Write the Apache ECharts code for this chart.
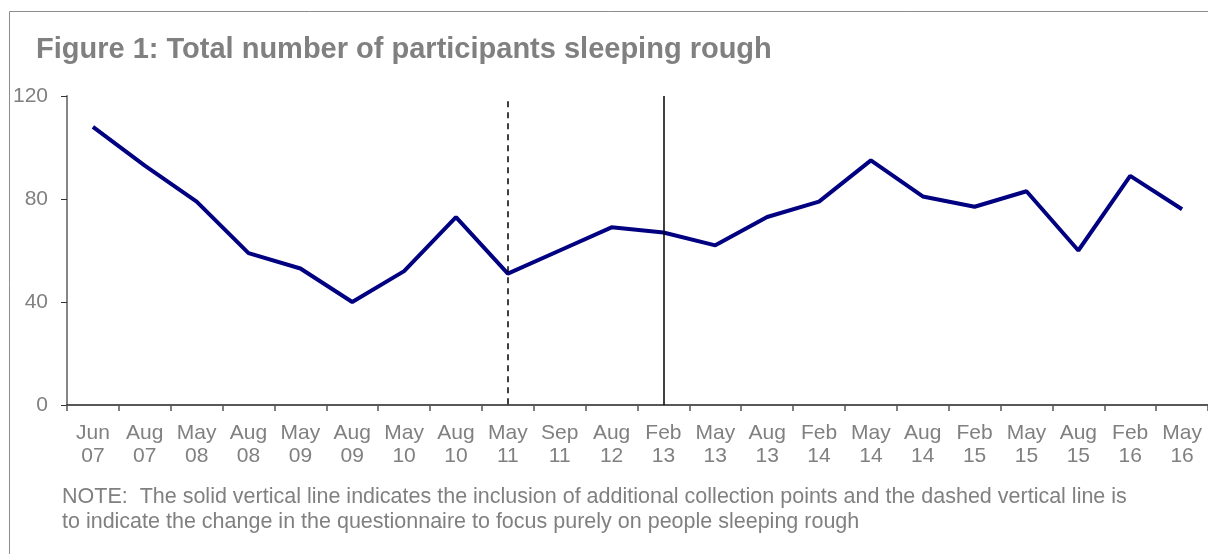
<html>
	<head>
		<meta charset="UTF-8">
		<title>Figure 1</title>
		<script src="https://cdn.jsdelivr.net/npm/echarts@6/dist/echarts.min.js"></script>
		<style>html,body,#container{width:100%;height:100%;margin:0;padding:0;background:#fff;}</style>
	</head>
	<body>
		<div id="container"></div>
		<script>
		var categories = ['Jun 07', 'Aug 07', 'May 08', 'Aug 08', 'May 09', 'Aug 09', 'May 10', 'Aug 10', 'May 11', 'Sep 11', 'Aug 12',
			'Feb 13', 'May 13', 'Aug 13', 'Feb 14', 'May 14', 'Aug 14', 'Feb 15', 'May 15', 'Aug 15', 'Feb 16', 'May 16'];
		var participants = [108, 93, 79, 59, 53, 40, 52, 73, 51, 60, 69, 67, 62, 73, 79, 95, 81, 77, 83, 60, 89, 76];
		var yTicks = [0, 40, 80, 120];
		// dashed = questionnaire change, solid = extra collection points
		var dashedAt = 'May 11';
		var solidAt = 'Feb 13';

		var gray = '#808080';
		var chart = echarts.init(document.getElementById('container'));
		chart.setOption({
			animation: false,
			textStyle: { fontFamily: 'Liberation Sans, Arial, sans-serif' },
			title: {
				text: 'Figure 1: Total number of participants sleeping rough',
				left: 36,
				top: 35,
				padding: 0,
				textStyle: { color: gray, fontSize: 29, fontWeight: 'bold' }
			},
			graphic: [{
				type: 'rect',
				shape: { x: 9.5, y: 11.5, width: 1400, height: 800 },
				style: { fill: 'none', stroke: '#8c8c8c', lineWidth: 1 },
				silent: true
			}, {
				type: 'text',
				left: 62,
				top: 485,
				style: {
					text: 'NOTE:  The solid vertical line indicates the inclusion of additional collection points and the dashed vertical line is\nto indicate the change in the questionnaire to focus purely on people sleeping rough',
					fill: gray,
					font: '21.5px Liberation Sans, Arial, sans-serif',
					lineHeight: 25
				}
			}],
			grid: { left: 67, top: 96, width: 1144, height: 309 },
			xAxis: {
				type: 'category',
				data: categories,
				boundaryGap: true,
				axisLine: { lineStyle: { color: '#222', width: 1.5 } },
				axisTick: { show: true, length: 6, lineStyle: { color: '#555', width: 1.5 } },
				axisLabel: {
					color: gray,
					fontSize: 21,
					lineHeight: 23,
					margin: 17,
					interval: 0,
					formatter: function (v) { return v.replace(' ', '\n'); }
				},
				splitLine: { show: false }
			},
			yAxis: {
				type: 'value',
				min: yTicks[0],
				max: yTicks[yTicks.length - 1],
				interval: 40,
				axisLine: { show: true, lineStyle: { color: '#868686', width: 2 } },
				axisTick: { show: true, length: 6, lineStyle: { color: '#333', width: 1 } },
				axisLabel: { color: gray, fontSize: 21, margin: 19 },
				splitLine: { show: false }
			},
			series: [{
				type: 'line',
				data: participants,
				showSymbol: false,
				symbol: 'none',
				lineStyle: { color: '#000080', width: 4 },
				markLine: {
					silent: true,
					symbol: 'none',
					label: { show: false },
					data: [
						[{ xAxis: dashedAt, yAxis: 118, lineStyle: { type: [6, 5], color: '#000', width: 1.5 } },
						 { xAxis: dashedAt, yAxis: 0 }],
						[{ xAxis: solidAt, yAxis: 120, lineStyle: { type: 'solid', color: '#000', width: 1.5 } },
						 { xAxis: solidAt, yAxis: 0 }]
					]
				}
			}]
		});
		</script>
	</body>
</html>
